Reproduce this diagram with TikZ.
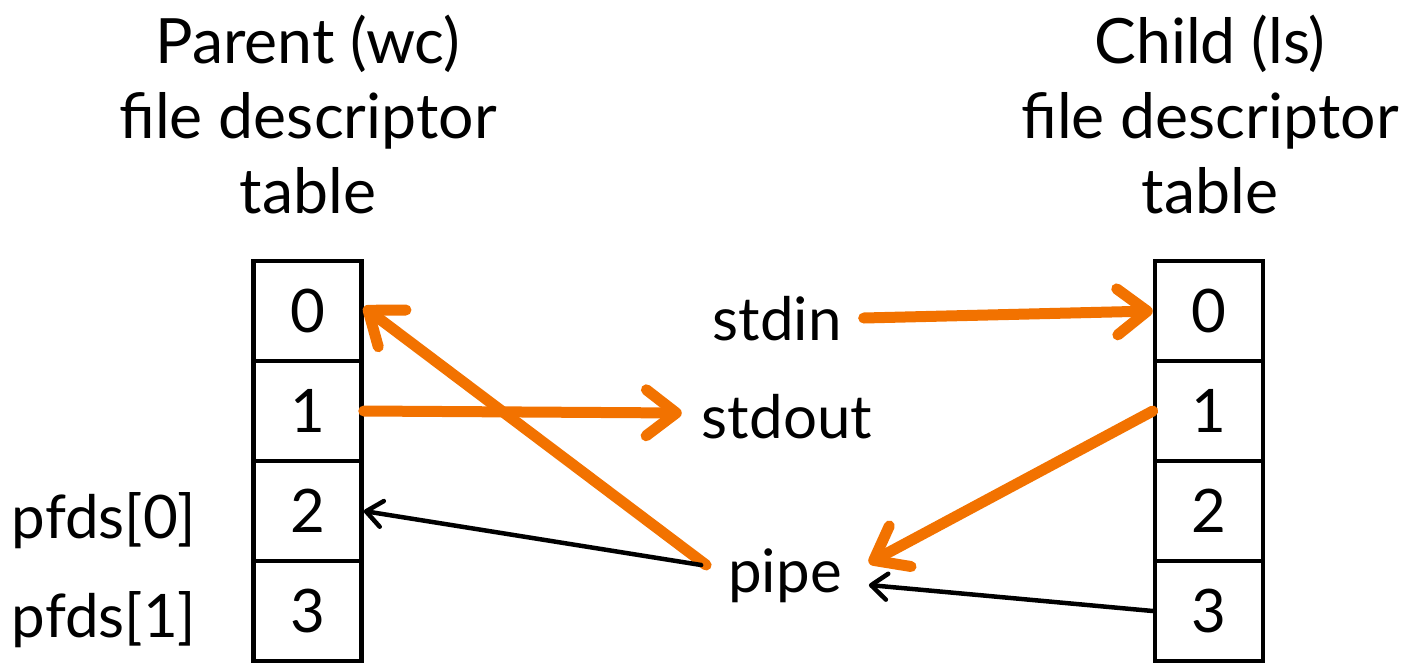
\documentclass[tikz,border=0pt]{standalone}
\usepackage{fontspec}
\setmainfont{Lato}
\usetikzlibrary{arrows.meta}
\definecolor{fdorange}{RGB}{242,114,0}
\tikzset{
  cell/.style={draw, line width=4.5pt, minimum width=108pt, minimum height=100pt,
    inner sep=0pt, font=\fontsize{60}{72}\selectfont},
  lbl/.style={inner sep=0pt, anchor=base, font=\fontsize{60}{72}\selectfont},
  hdr/.style={inner sep=0pt, anchor=base, align=center,
    font=\fontsize{62.5}{75}\selectfont},
  orange link/.style={draw=fdorange, line width=11pt, line cap=round,
    -{Straight Barb[length=30pt, width=46pt, round, line width=11pt]}},
  black link/.style={draw=black, line width=4.5pt, line cap=round,
    -{Straight Barb[length=16pt, width=26pt, round, line width=4.5pt]}},
}
\begin{document}
\begin{tikzpicture}[x=1pt, y=-1pt]
  \useasboundingbox (0,0) rectangle (1406,662);

  % headings (base anchor sits on the last line)
  \node[hdr] (hdrL) at (308,213) {Parent (wc)\\file descriptor\\table};
  \node[hdr] (hdrR) at (1210,213) {Child (ls)\\file descriptor\\table};

  % parent table
  \node[cell] (L0) at (307.5,311) {0};
  \node[cell] (L1) at (307.5,411) {1};
  \node[cell] (L2) at (307.5,511) {2};
  \node[cell] (L3) at (307.5,611) {3};

  % child table
  \node[cell] (R0) at (1209,311) {0};
  \node[cell] (R1) at (1209,411) {1};
  \node[cell] (R2) at (1209,511) {2};
  \node[cell] (R3) at (1209,611) {3};

  % labels
  \node[lbl] (pfd0) at (104,538) {pfds[0]};
  \node[lbl] (pfd1) at (104,637) {pfds[1]};
  \node[lbl] (stdin) at (777,340) {stdin};
  \node[lbl] (stdout) at (787,438) {stdout};
  \node[lbl] (pipe) at (785,592) {pipe};

  % connectors
  \draw[orange link] ([shift={(22,-22)}]stdin.base east) -- (R0.west);
  \draw[orange link] (L1.east) -- ([shift={(-20,-25)}]stdout.base west);
  \draw[orange link] ([shift={(-22,-27)}]pipe.base west) -- ([yshift=4]L0.east);
  \draw[orange link] (R1.west) -- ([shift={(27,-29)}]pipe.base east);
  \draw[black link] ([shift={(-27,-27)}]pipe.base west) -- (L2.east);
  \draw[black link] (R3.west) -- ([shift={(27,-7)}]pipe.base east);
\end{tikzpicture}
\end{document}
